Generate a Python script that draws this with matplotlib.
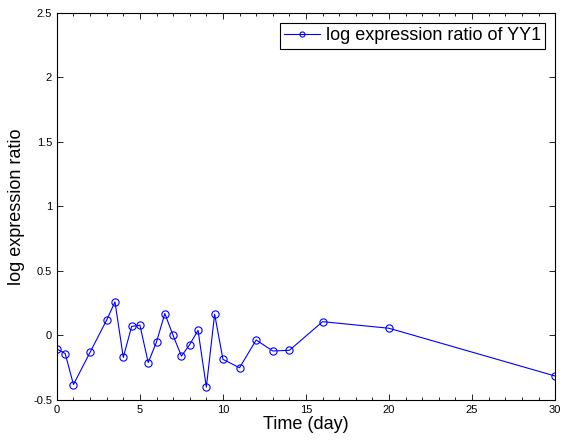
import matplotlib
matplotlib.use("Agg")
import matplotlib.pyplot as plt
from matplotlib.ticker import MultipleLocator

# -------------------------------------------------
# DATA
# -------------------------------------------------
time_day = [0, 0.5, 1, 2, 3, 3.5, 4, 4.5, 5, 5.5, 6, 6.5, 7, 7.5, 8, 8.5,
            9, 9.5, 10, 11, 12, 13, 14, 16, 20, 30]
log_ratio = [-0.105, -0.14, -0.38, -0.13, 0.12, 0.26, -0.17, 0.07, 0.08,
             -0.21, -0.05, 0.17, 0.0, -0.16, -0.07, 0.04, -0.40, 0.165,
             -0.185, -0.25, -0.035, -0.12, -0.115, 0.107, 0.056, -0.314]
x_ticks = [0, 5, 10, 15, 20, 25, 30]
y_ticks = [-0.5, 0, 0.5, 1, 1.5, 2, 2.5]
x_tick_labels = ["0", "5", "10", "15", "20", "25", "30"]
y_tick_labels = ["-0.5", "0", "0.5", "1", "1.5", "2", "2.5"]
series_label = "log expression ratio of YY1"

plt.rcParams["font.family"] = ["Liberation Sans", "DejaVu Sans"]

fig = plt.figure(figsize=(5.63, 4.42), dpi=100)
ax = fig.add_axes([0.101, 0.095, 0.885, 0.876])

ax.plot(time_day, log_ratio, color="blue", linewidth=0.8, marker="o",
        markersize=5.2, markerfacecolor="none", markeredgecolor="blue",
        markeredgewidth=0.8, label=series_label)

ax.set_xlim(0, 30)
ax.set_ylim(-0.5, 2.5)
ax.set_xticks(x_ticks)
ax.set_xticklabels(x_tick_labels)
ax.set_yticks(y_ticks)
ax.set_yticklabels(y_tick_labels)
ax.xaxis.set_minor_locator(MultipleLocator(1))

ax.tick_params(which="both", direction="in", top=True, right=True,
               labelsize=8, width=0.6)
ax.tick_params(which="major", length=4)
ax.tick_params(which="minor", length=2)
for s in ax.spines.values():
    s.set_linewidth(0.8)

ax.set_xlabel("Time (day)", fontsize=13, labelpad=1)
ax.set_ylabel("log expression ratio", fontsize=13, labelpad=6)

leg = ax.legend(loc="upper right", fontsize=13, fancybox=False,
                framealpha=1, edgecolor="black", handlelength=2,
                markerscale=0.7, borderpad=0.25, handletextpad=0.3,
                borderaxespad=0.55)
leg.get_frame().set_linewidth(0.8)

fig.savefig("out.png", dpi=100)
